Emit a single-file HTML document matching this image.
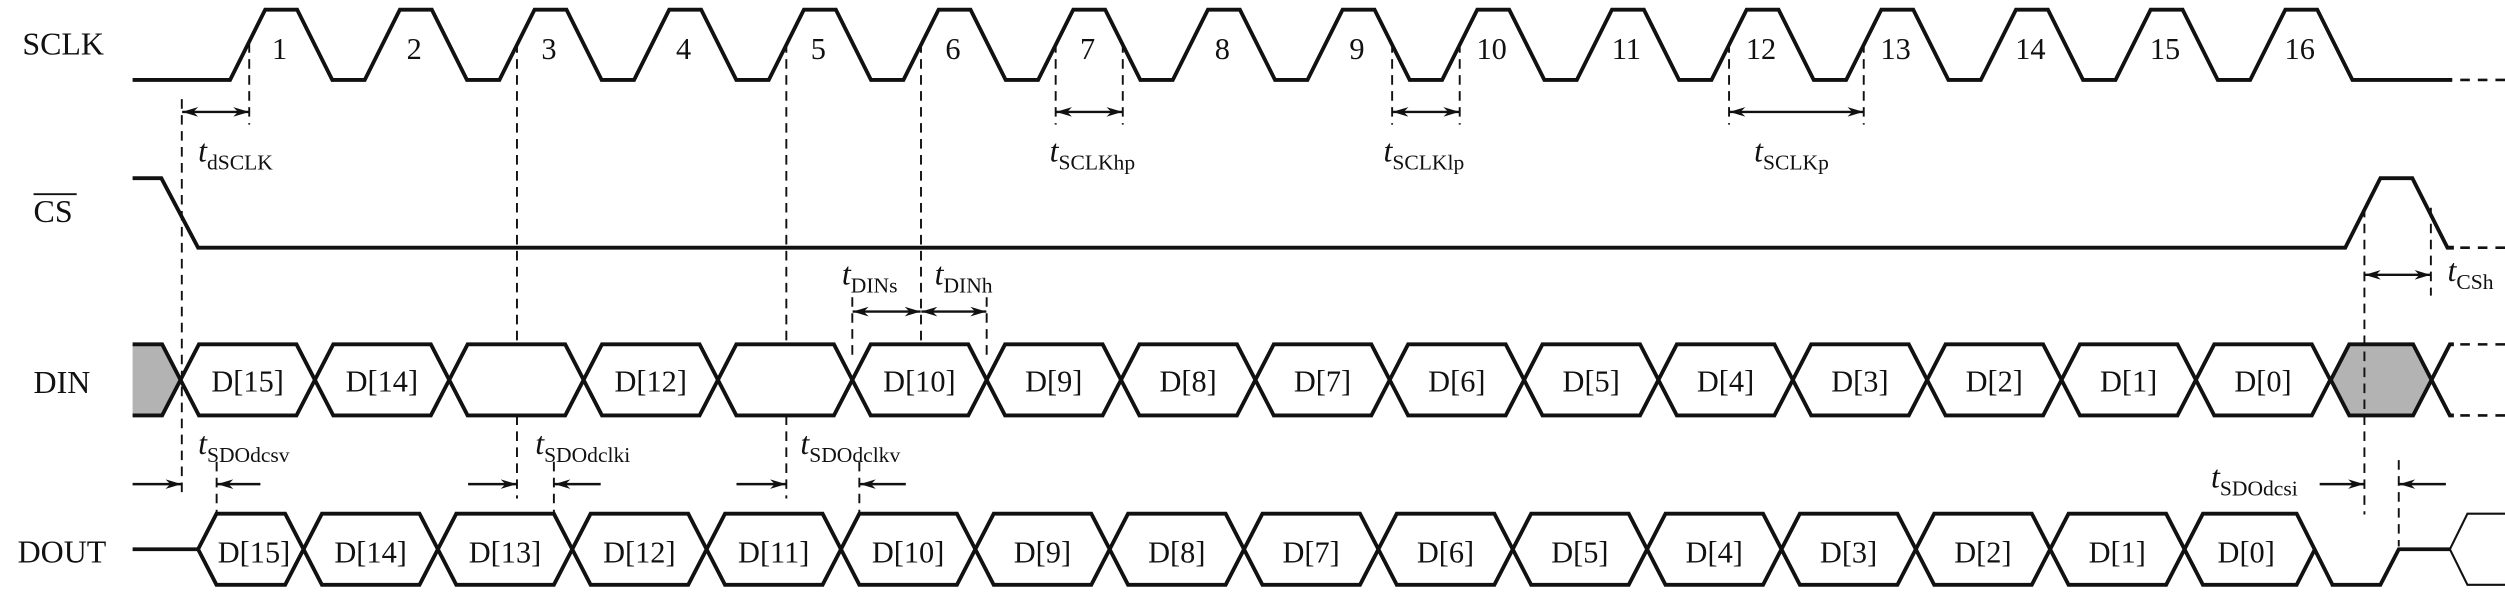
<!DOCTYPE html>
<html><head><meta charset="utf-8"><style>
html,body{margin:0;padding:0;background:#fff;}
svg{display:block;}
text{font-family:"Liberation Serif",serif;fill:#111;}
</style></head><body>
<svg width="2505" height="612" viewBox="0 0 1568 383" xmlns="http://www.w3.org/2000/svg">
<defs>
<marker id="a" viewBox="0 0 10 6" refX="10" refY="3" markerWidth="10" markerHeight="6" markerUnits="userSpaceOnUse" orient="auto-start-reverse">
<path d="M0,0 L10,3 L0,6 L3,3 Z" fill="#111"/>
</marker>
</defs>
<g font-size="20">
<text x="14" y="34">SCLK</text>
<text x="21" y="139">CS</text>
<line x1="21" y1="121.5" x2="48" y2="121.5" stroke="#111" stroke-width="1.2"/>
<text x="21" y="246">DIN</text>
<text x="11" y="352">DOUT</text>
</g>
<g font-size="19" text-anchor="middle">
<text x="175" y="37">1</text><text x="259.3" y="37">2</text><text x="343.6" y="37">3</text><text x="427.9" y="37">4</text>
<text x="512.2" y="37">5</text><text x="596.5" y="37">6</text><text x="680.8" y="37">7</text><text x="765.1" y="37">8</text>
<text x="849.4" y="37">9</text><text x="933.7" y="37">10</text><text x="1018" y="37">11</text><text x="1102.3" y="37">12</text>
<text x="1186.6" y="37">13</text><text x="1270.9" y="37">14</text><text x="1355.2" y="37">15</text><text x="1439.5" y="37">16</text>
</g>
<g fill="none" stroke="#111" stroke-width="2.4" stroke-linejoin="miter">
<path d="M83,50 L144,50 L166,6 L186,6 L208,50 L228.3,50 L250.3,6 L270.3,6 L292.3,50 L312.6,50 L334.6,6 L354.6,6 L376.6,50 L396.9,50 L418.9,6 L438.9,6 L460.9,50 L481.2,50 L503.2,6 L523.2,6 L545.2,50 L565.5,50 L587.5,6 L607.5,6 L629.5,50 L649.8,50 L671.8,6 L691.8,6 L713.8,50 L734.1,50 L756.1,6 L776.1,6 L798.1,50 L818.4,50 L840.4,6 L860.4,6 L882.4,50 L902.7,50 L924.7,6 L944.7,6 L966.7,50 L987,50 L1009,6 L1029,6 L1051,50 L1071.3,50 L1093.3,6 L1113.3,6 L1135.3,50 L1155.6,50 L1177.6,6 L1197.6,6 L1219.6,50 L1239.9,50 L1261.9,6 L1281.9,6 L1303.9,50 L1324.2,50 L1346.2,6 L1366.2,6 L1388.2,50 L1408.5,50 L1430.5,6 L1450.5,6 L1472.5,50 L1535,50"/>
<path d="M83,111.5 L101,111.5 L124,155 L1468,155 L1490,111.5 L1510,111.5 L1532,155 L1536,155"/>
</g>
<g fill="none" stroke="#111" stroke-width="1.6" stroke-dasharray="6,5">
<line x1="1540" y1="50" x2="1568" y2="50"/>
<line x1="1540" y1="155" x2="1568" y2="155"/>
<line x1="1540" y1="215.5" x2="1568" y2="215.5"/>
<line x1="1540" y1="260" x2="1568" y2="260"/>
</g>
<!-- DIN -->
<g stroke="#111" stroke-width="2.4" stroke-linejoin="miter">
<polygon points="83,215.5 101.5,215.5 113,237.75 101.5,260 83,260" fill="#b3b3b3" stroke="none"/>
<polyline points="83,215.5 101.5,215.5 113,237.75 101.5,260 83,260" fill="none"/>
<polygon points="1459,237.75 1470.5,215.5 1510.5,215.5 1522,237.75 1510.5,260 1470.5,260" fill="#b3b3b3"/>
<polyline points="1522,237.75 1533.5,215.5 1536,215.5" fill="none"/>
<polyline points="1522,237.75 1533.5,260 1536,260" fill="none"/>
<g fill="none">
<polygon points="113,237.75 124.5,215.5 185.6,215.5 197.1,237.75 185.6,260 124.5,260"/>
<polygon points="197.1,237.75 208.6,215.5 269.7,215.5 281.2,237.75 269.7,260 208.6,260"/>
<polygon points="281.2,237.75 292.7,215.5 353.8,215.5 365.3,237.75 353.8,260 292.7,260"/>
<polygon points="365.3,237.75 376.8,215.5 437.9,215.5 449.4,237.75 437.9,260 376.8,260"/>
<polygon points="449.4,237.75 460.9,215.5 522,215.5 533.5,237.75 522,260 460.9,260"/>
<polygon points="533.5,237.75 545,215.5 606.1,215.5 617.6,237.75 606.1,260 545,260"/>
<polygon points="617.6,237.75 629.1,215.5 690.2,215.5 701.7,237.75 690.2,260 629.1,260"/>
<polygon points="701.7,237.75 713.2,215.5 774.3,215.5 785.8,237.75 774.3,260 713.2,260"/>
<polygon points="785.8,237.75 797.3,215.5 858.4,215.5 869.9,237.75 858.4,260 797.3,260"/>
<polygon points="869.9,237.75 881.4,215.5 942.5,215.5 954,237.75 942.5,260 881.4,260"/>
<polygon points="954,237.75 965.5,215.5 1026.6,215.5 1038.1,237.75 1026.6,260 965.5,260"/>
<polygon points="1038.1,237.75 1049.6,215.5 1110.7,215.5 1122.2,237.75 1110.7,260 1049.6,260"/>
<polygon points="1122.2,237.75 1133.7,215.5 1194.8,215.5 1206.3,237.75 1194.8,260 1133.7,260"/>
<polygon points="1206.3,237.75 1217.8,215.5 1278.9,215.5 1290.4,237.75 1278.9,260 1217.8,260"/>
<polygon points="1290.4,237.75 1301.9,215.5 1363,215.5 1374.5,237.75 1363,260 1301.9,260"/>
<polygon points="1374.5,237.75 1386,215.5 1447.1,215.5 1458.6,237.75 1447.1,260 1386,260"/>
</g>
</g>
<g font-size="19" text-anchor="middle">
<text x="155" y="245">D[15]</text><text x="239" y="245">D[14]</text>
<text x="407.3" y="245">D[12]</text>
<text x="575.5" y="245">D[10]</text><text x="659.6" y="245">D[9]</text><text x="743.7" y="245">D[8]</text>
<text x="827.8" y="245">D[7]</text><text x="911.9" y="245">D[6]</text><text x="996" y="245">D[5]</text>
<text x="1080.1" y="245">D[4]</text><text x="1164.2" y="245">D[3]</text><text x="1248.3" y="245">D[2]</text>
<text x="1332.4" y="245">D[1]</text><text x="1416.5" y="245">D[0]</text>
</g>
<!-- DOUT -->
<g fill="none" stroke="#111" stroke-width="2.4" stroke-linejoin="miter">
<line x1="83" y1="343.75" x2="124" y2="343.75"/>
<polygon points="124,343.75 135.5,321.5 178.5,321.5 190,343.75 178.5,366 135.5,366"/>
<polygon points="190,343.75 201.5,321.5 262.6,321.5 274.1,343.75 262.6,366 201.5,366"/>
<polygon points="274.1,343.75 285.6,321.5 346.7,321.5 358.2,343.75 346.7,366 285.6,366"/>
<polygon points="358.2,343.75 369.7,321.5 430.8,321.5 442.3,343.75 430.8,366 369.7,366"/>
<polygon points="442.3,343.75 453.8,321.5 514.9,321.5 526.4,343.75 514.9,366 453.8,366"/>
<polygon points="526.4,343.75 537.9,321.5 599,321.5 610.5,343.75 599,366 537.9,366"/>
<polygon points="610.5,343.75 622,321.5 683.1,321.5 694.6,343.75 683.1,366 622,366"/>
<polygon points="694.6,343.75 706.1,321.5 767.2,321.5 778.7,343.75 767.2,366 706.1,366"/>
<polygon points="778.7,343.75 790.2,321.5 851.3,321.5 862.8,343.75 851.3,366 790.2,366"/>
<polygon points="862.8,343.75 874.3,321.5 935.4,321.5 946.9,343.75 935.4,366 874.3,366"/>
<polygon points="946.9,343.75 958.4,321.5 1019.5,321.5 1031,343.75 1019.5,366 958.4,366"/>
<polygon points="1031,343.75 1042.5,321.5 1103.6,321.5 1115.1,343.75 1103.6,366 1042.5,366"/>
<polygon points="1115.1,343.75 1126.6,321.5 1187.7,321.5 1199.2,343.75 1187.7,366 1126.6,366"/>
<polygon points="1199.2,343.75 1210.7,321.5 1271.8,321.5 1283.3,343.75 1271.8,366 1210.7,366"/>
<polygon points="1283.3,343.75 1294.8,321.5 1355.9,321.5 1367.4,343.75 1355.9,366 1294.8,366"/>
<polyline points="1367.4,343.75 1378.9,321.5 1437.6,321.5 1460,366"/>
<polyline points="1367.4,343.75 1378.9,366 1437.6,366 1449,343.75"/>
<polyline points="1459,366 1490,366 1501.5,343.75 1533.5,343.75"/>
</g>
<g fill="none" stroke="#111" stroke-width="1.3">
<polyline points="1568,321.5 1544.5,321.5 1533.5,343.75 1544.5,366 1568,366"/>
</g>
<g font-size="19" text-anchor="middle">
<text x="159" y="352">D[15]</text><text x="232" y="352">D[14]</text><text x="316.1" y="352">D[13]</text>
<text x="400.2" y="352">D[12]</text><text x="484.3" y="352">D[11]</text><text x="568.4" y="352">D[10]</text>
<text x="652.5" y="352">D[9]</text><text x="736.6" y="352">D[8]</text><text x="820.7" y="352">D[7]</text>
<text x="904.8" y="352">D[6]</text><text x="988.9" y="352">D[5]</text><text x="1073" y="352">D[4]</text>
<text x="1157.1" y="352">D[3]</text><text x="1241.2" y="352">D[2]</text><text x="1325.3" y="352">D[1]</text>
<text x="1406" y="352">D[0]</text>
</g>
<!-- dashed guides -->
<g stroke="#111" stroke-width="1.2" stroke-dasharray="6,4" fill="none">
<line x1="113.8" y1="62" x2="113.8" y2="312"/>
<line x1="156" y1="27" x2="156" y2="78"/>
<line x1="323.6" y1="27" x2="323.6" y2="215"/>
<line x1="323.6" y1="260" x2="323.6" y2="312"/>
<line x1="492.2" y1="27" x2="492.2" y2="215"/>
<line x1="492.2" y1="260" x2="492.2" y2="312"/>
<line x1="576.5" y1="27" x2="576.5" y2="213"/>
<line x1="660.8" y1="27" x2="660.8" y2="78"/>
<line x1="702.8" y1="27" x2="702.8" y2="78"/>
<line x1="871.4" y1="27" x2="871.4" y2="78"/>
<line x1="913.7" y1="27" x2="913.7" y2="78"/>
<line x1="1082.3" y1="27" x2="1082.3" y2="78"/>
<line x1="1166.6" y1="27" x2="1166.6" y2="78"/>
<line x1="533.5" y1="186" x2="533.5" y2="226"/>
<line x1="617.6" y1="186" x2="617.6" y2="226"/>
<line x1="135.6" y1="289" x2="135.6" y2="321"/>
<line x1="346.7" y1="289" x2="346.7" y2="321"/>
<line x1="537.9" y1="289" x2="537.9" y2="321"/>
<line x1="1480" y1="130" x2="1480" y2="322"/>
<line x1="1521.6" y1="130" x2="1521.6" y2="185"/>
<line x1="1501.5" y1="288" x2="1501.5" y2="342"/>
</g>
<!-- arrows -->
<g stroke="#111" stroke-width="1.5" fill="none">
<line x1="114" y1="70" x2="156" y2="70" marker-start="url(#a)" marker-end="url(#a)"/>
<line x1="661" y1="70" x2="702.6" y2="70" marker-start="url(#a)" marker-end="url(#a)"/>
<line x1="871.6" y1="70" x2="913.5" y2="70" marker-start="url(#a)" marker-end="url(#a)"/>
<line x1="1082.5" y1="70" x2="1166.4" y2="70" marker-start="url(#a)" marker-end="url(#a)"/>
<line x1="533.7" y1="195" x2="576.3" y2="195" marker-start="url(#a)" marker-end="url(#a)"/>
<line x1="576.7" y1="195" x2="617.4" y2="195" marker-start="url(#a)" marker-end="url(#a)"/>
<line x1="1480.2" y1="172" x2="1521.4" y2="172" marker-start="url(#a)" marker-end="url(#a)"/>
<line x1="83" y1="303" x2="113.6" y2="303" marker-end="url(#a)"/>
<line x1="163" y1="303" x2="136" y2="303" marker-end="url(#a)"/>
<line x1="293" y1="303" x2="323.4" y2="303" marker-end="url(#a)"/>
<line x1="376" y1="303" x2="347" y2="303" marker-end="url(#a)"/>
<line x1="461" y1="303" x2="492" y2="303" marker-end="url(#a)"/>
<line x1="567" y1="303" x2="538.2" y2="303" marker-end="url(#a)"/>
<line x1="1452" y1="303" x2="1479.8" y2="303" marker-end="url(#a)"/>
<line x1="1531" y1="303" x2="1501.8" y2="303" marker-end="url(#a)"/>
</g>
<!-- timing labels -->
<g font-size="20">
<text x="124" y="101"><tspan font-style="italic">t</tspan><tspan font-size="13.5" dy="5">dSCLK</tspan></text>
<text x="657" y="101"><tspan font-style="italic">t</tspan><tspan font-size="13.5" dy="5">SCLKhp</tspan></text>
<text x="866" y="101"><tspan font-style="italic">t</tspan><tspan font-size="13.5" dy="5">SCLKlp</tspan></text>
<text x="1098" y="101"><tspan font-style="italic">t</tspan><tspan font-size="13.5" dy="5">SCLKp</tspan></text>
<text x="527" y="178"><tspan font-style="italic">t</tspan><tspan font-size="13.5" dy="5">DINs</tspan></text>
<text x="585" y="178"><tspan font-style="italic">t</tspan><tspan font-size="13.5" dy="5">DINh</tspan></text>
<text x="1532" y="176"><tspan font-style="italic">t</tspan><tspan font-size="13.5" dy="5">CSh</tspan></text>
<text x="124" y="284"><tspan font-style="italic">t</tspan><tspan font-size="13.5" dy="5">SDOdcsv</tspan></text>
<text x="335" y="284"><tspan font-style="italic">t</tspan><tspan font-size="13.5" dy="5">SDOdclki</tspan></text>
<text x="501" y="284"><tspan font-style="italic">t</tspan><tspan font-size="13.5" dy="5">SDOdclkv</tspan></text>
<text x="1384" y="305"><tspan font-style="italic">t</tspan><tspan font-size="13.5" dy="5">SDOdcsi</tspan></text>
</g>
</svg>
</body></html>
